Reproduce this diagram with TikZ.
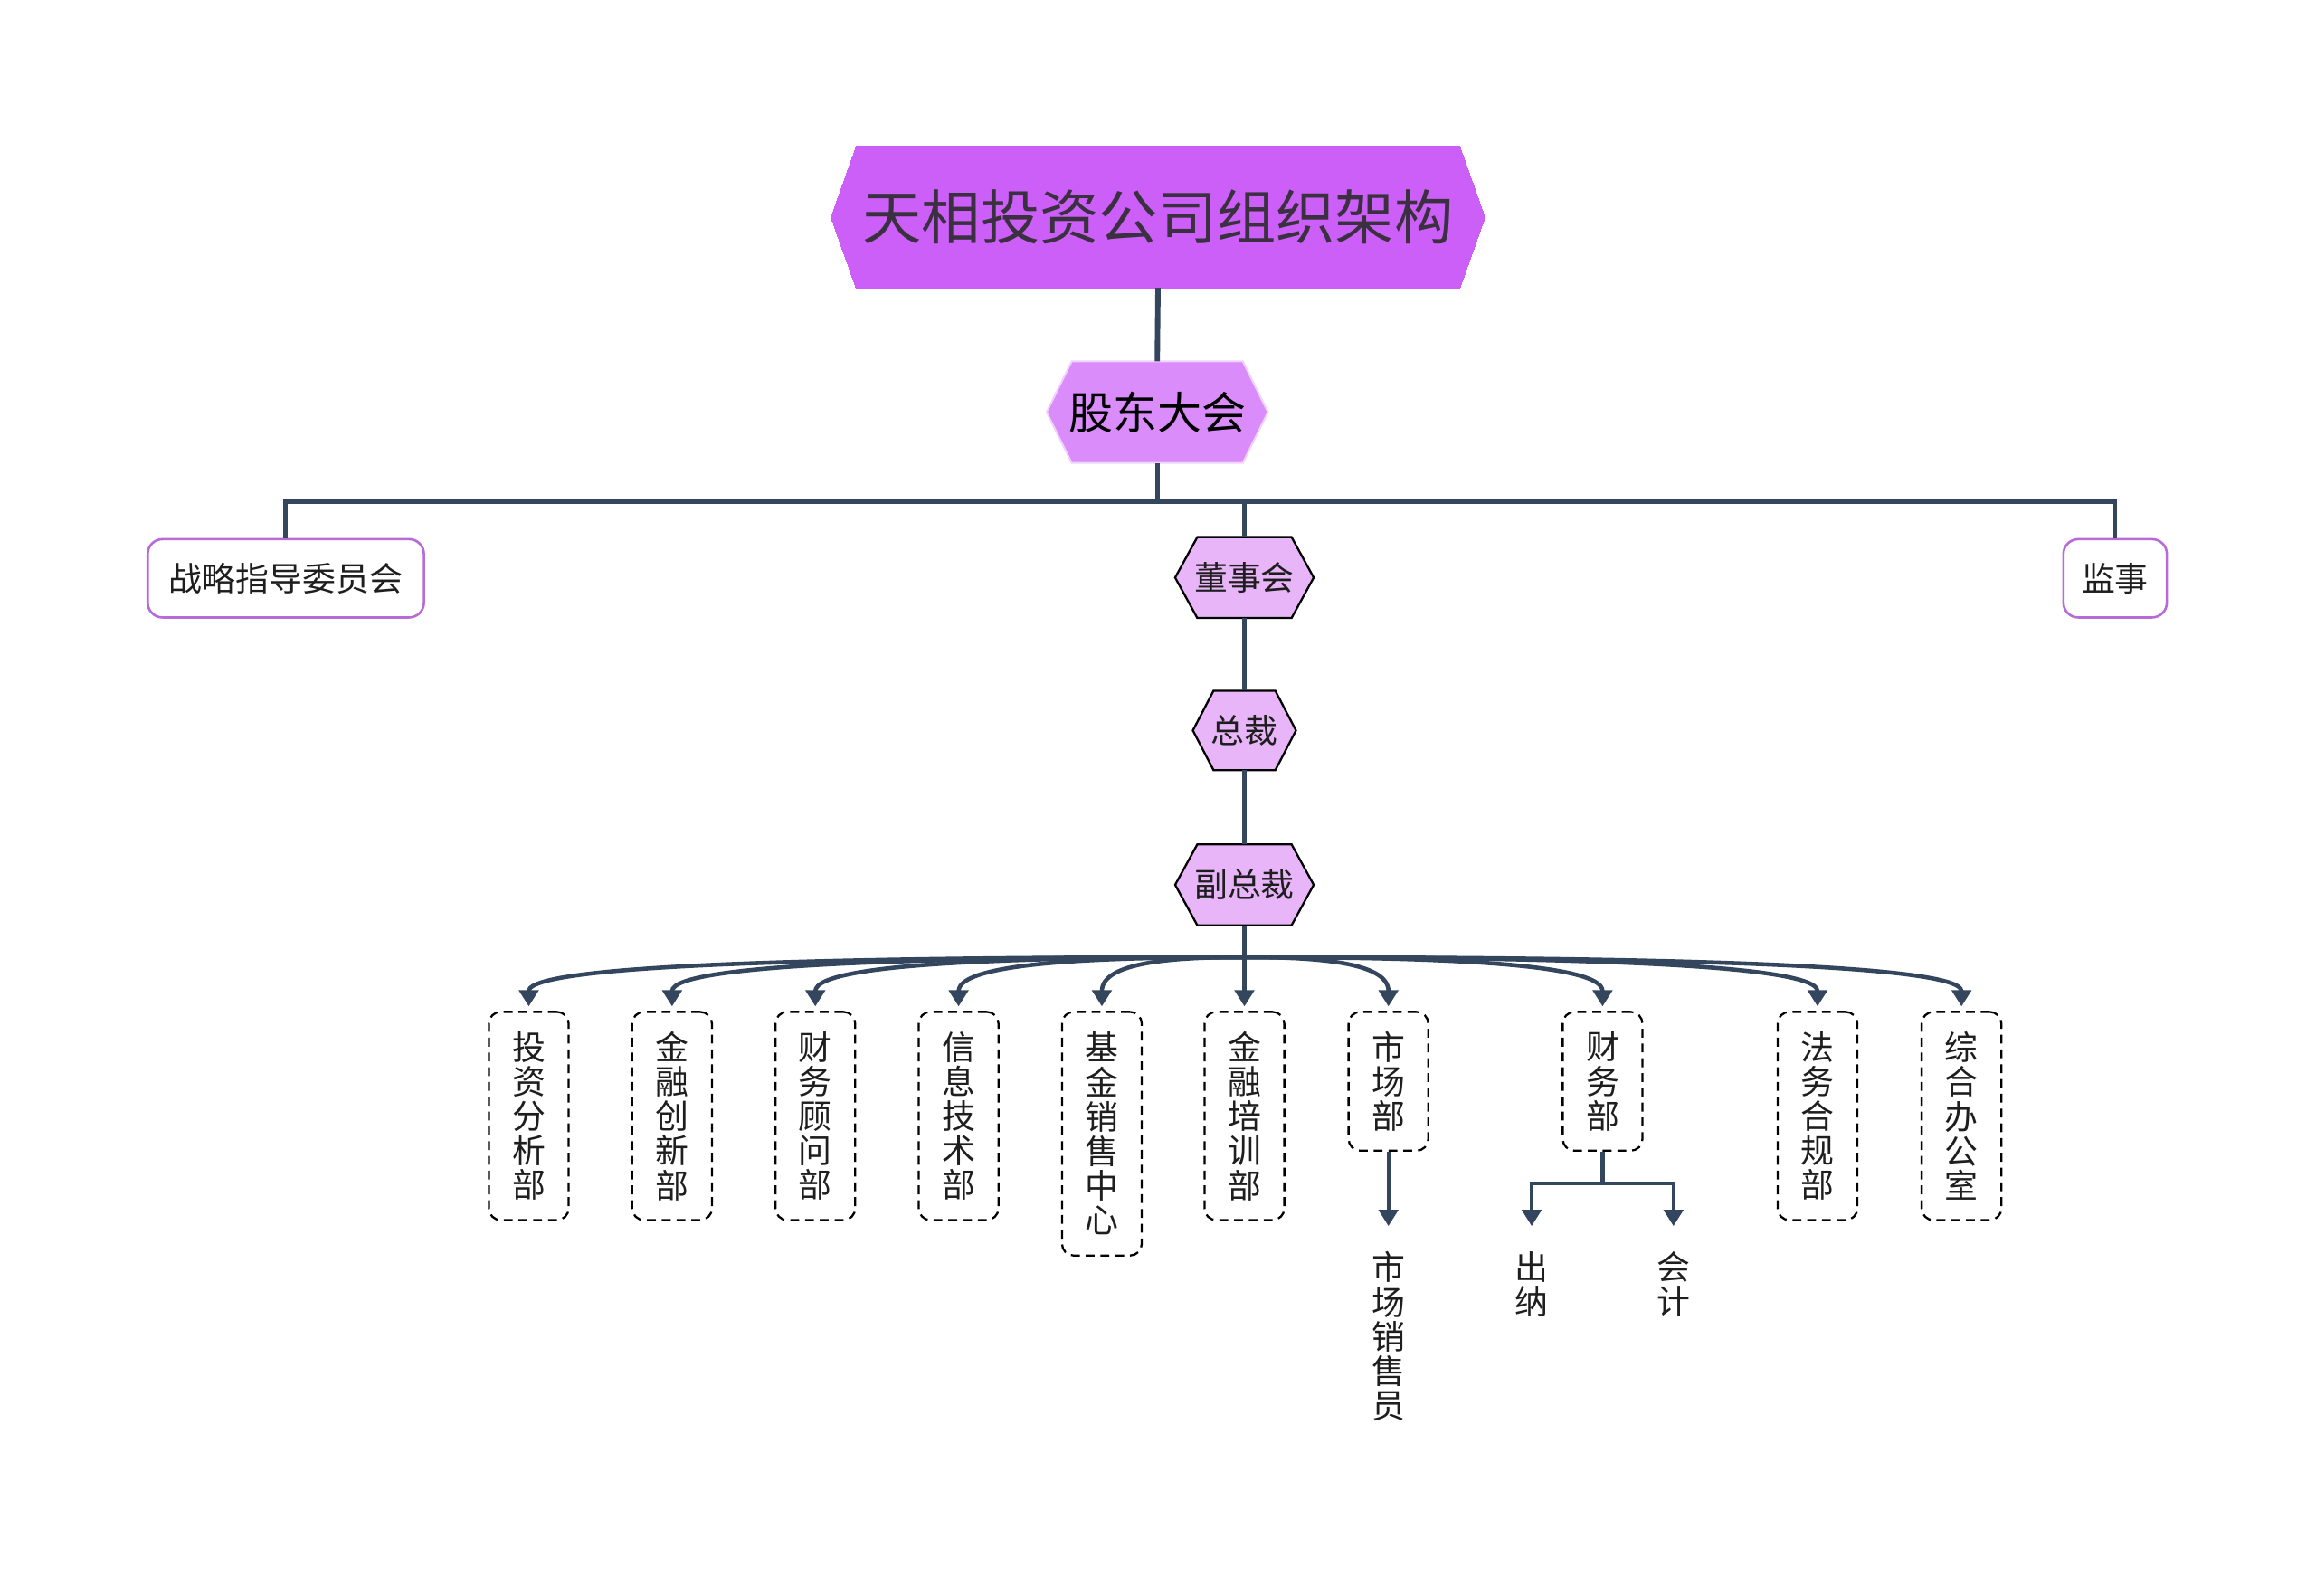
\documentclass[tikz,border=0pt]{standalone}
\usepackage{fontspec}
\setmainfont{Noto Sans CJK SC}
\usetikzlibrary{arrows.meta,backgrounds,calc}
\definecolor{linec}{HTML}{34455E}
\definecolor{titlefill}{HTML}{CC5FF8}
\definecolor{gdfill}{HTML}{DA8CFA}
\definecolor{hexfill}{HTML}{E8B5F8}
\definecolor{boxpurple}{HTML}{B66BD9}
\definecolor{txt}{HTML}{1E1E1E}
\definecolor{titletxt}{HTML}{3A3040}
\newcommand\hexbg[5]{% name, inset, fill, draw, line width
  \begin{scope}[on background layer]
    \filldraw[fill=#3,draw=#4,line width=#5,line join=miter] (#1.west) -- ([xshift=#2]#1.north west) -- ([xshift=-#2]#1.north east) -- (#1.east) -- ([xshift=-#2]#1.south east) -- ([xshift=#2]#1.south west) -- cycle;
  \end{scope}}
\begin{document}
\begin{tikzpicture}[x=0.5pt,y=-0.5pt,
  conn/.style={draw=linec,line width=1.3pt},
  arr/.style={conn,-{Triangle[width=6.5pt,length=5.5pt]},shorten >=1.5pt},
  hexn/.style={inner sep=0pt,text=txt,font=\fontsize{11.3}{13}\selectfont},
  rbox/.style={draw=boxpurple,line width=0.8pt,rounded corners=5pt,fill=white,inner sep=0pt,text=txt,font=\fontsize{11.3}{13}\selectfont},
  dept/.style={draw=black,line width=0.7pt,dash pattern=on 3pt off 2pt,rounded corners=4pt,minimum width=27pt,minimum height=#1,align=center,inner sep=0pt,text=txt,font=\fontsize{11.3}{11.7}\selectfont},
  plain/.style={align=center,inner xsep=0pt,inner ysep=7pt,text=txt,font=\fontsize{11.3}{11.7}\selectfont,anchor=north}
]
\useasboundingbox (0,0) rectangle (1568,1080);
\begin{scope}[on background layer]
\fill[white] (0,0) rectangle (1568,1080);
\end{scope}

% top
\node[inner sep=0pt,minimum width=221pt,minimum height=47.5pt,text=titletxt,font=\fontsize{20}{24}\selectfont] (title) at (784,147) {天相投资公司组织架构};
\hexbg{title}{8.5pt}{titlefill}{titlefill}{0pt}
\node[inner sep=0pt,minimum width=74.5pt,minimum height=34pt,text=black,font=\fontsize{15}{18}\selectfont] (gd) at (783.5,279) {股东大会};
\hexbg{gd}{8.5pt}{gdfill}{gdfill!40!white}{0.6pt}

\node[rbox,minimum width=93.5pt,minimum height=26.5pt] (zl) at (193.5,391.5) {战略指导委员会};
\node[rbox,minimum width=35pt,minimum height=26.5pt] (js) at (1432,391.5) {监事};

\node[hexn,minimum width=46.5pt,minimum height=27pt] (ds) at (842.5,391) {董事会};
\hexbg{ds}{7.5pt}{hexfill}{black}{0.7pt}
\node[hexn,minimum width=34.5pt,minimum height=26.5pt] (zc) at (842.5,494.5) {总裁};
\hexbg{zc}{7pt}{hexfill}{black}{0.7pt}
\node[hexn,minimum width=46.5pt,minimum height=27pt] (fz) at (842.5,599) {副总裁};
\hexbg{fz}{7.5pt}{hexfill}{black}{0.7pt}

% departments
\node[dept=70.5pt] (d1) at (358,755.5) {投\\资\\分\\析\\部};
\node[dept=70.5pt] (d2) at (455,755.5) {金\\融\\创\\新\\部};
\node[dept=70.5pt] (d3) at (552,755.5) {财\\务\\顾\\问\\部};
\node[dept=70.5pt] (d4) at (649,755.5) {信\\息\\技\\术\\部};
\node[dept=82.5pt] (d5) at (746,767.5) {基\\金\\销\\售\\中\\心};
\node[dept=70.5pt] (d6) at (842.5,755.5) {金\\融\\培\\训\\部};
\node[dept=47pt] (d7) at (940,732) {市\\场\\部};
\node[dept=47pt] (d8) at (1085,732) {财\\务\\部};
\node[dept=70.5pt] (d9) at (1230.5,755.5) {法\\务\\合\\规\\部};
\node[dept=70.5pt] (d10) at (1328,755.5) {综\\合\\办\\公\\室};

% sub items
\node[plain] (ms) at (940,833) {市\\场\\销\\售\\员};
\node[plain] (cn) at (1037,833) {出\\纳};
\node[plain] (kj) at (1133,833) {会\\计};

% connectors
\draw[conn,line width=1.8pt] (title.south) -- (gd.north);
\draw[conn,line width=1.5pt] (gd.south) -- ++(0,26) -| (zl.north);
\draw[conn,line width=1.5pt] (gd.south) ++(0,26) -| (ds.north);
\draw[conn,line width=1.5pt] (gd.south) ++(0,26) -| (js.north);
\draw[conn] (ds.south) -- (zc.north);
\draw[conn] (zc.south) -- (fz.north);
\coordinate (vj) at (842.5,648);
\draw[conn,line width=1.4pt] (fz.south) -- (vj);
\foreach \d in {d1,d2,d3,d4,d5,d7,d8,d9,d10}
  \draw[arr,line width=1.4pt] (vj) .. controls ($(vj)!0.5!(\d.north |- vj)$) and +(0,-33) .. (\d.north);
\draw[arr,line width=1.4pt] (vj) -- (d6.north);

\draw[arr] (d7.south) -- (ms.north);
\coordinate (fj) at (1085,801);
\draw[conn] (d8.south) -- (fj);
\draw[arr] (fj) -| (cn.north);
\draw[arr] (fj) -| (kj.north);
\end{tikzpicture}
\end{document}
